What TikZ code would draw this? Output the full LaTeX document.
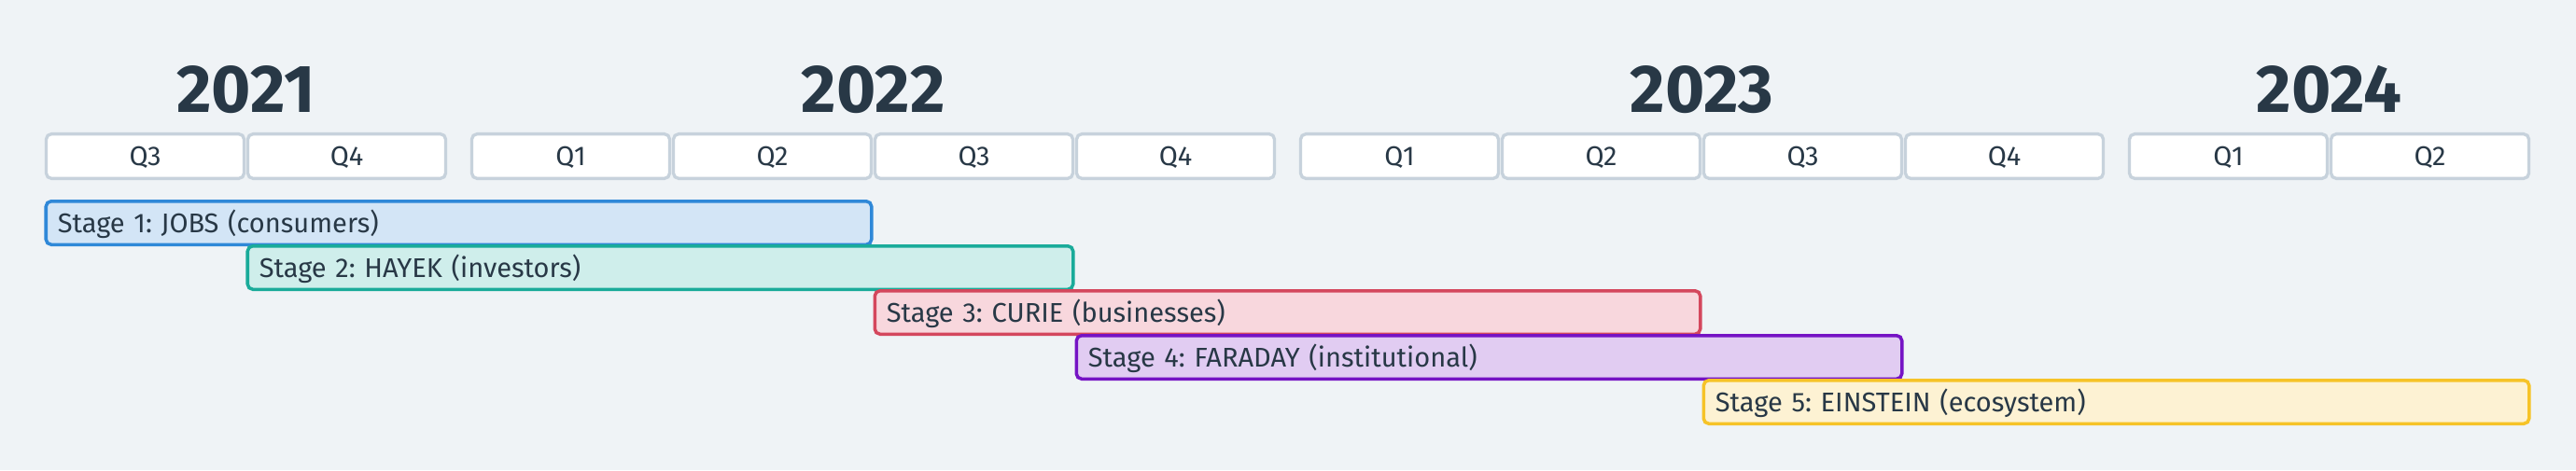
\documentclass[tikz,border=0pt]{standalone}
\usepackage{fontspec}
\setmainfont{Fira Sans}
\usepackage{tikz}
\usetikzlibrary{positioning}
\frenchspacing
\definecolor{bg}{HTML}{EFF3F6}
\definecolor{ink}{HTML}{283846}
\definecolor{qline}{HTML}{C7D2DC}
\definecolor{blueline}{HTML}{2F88D8}
\definecolor{bluefill}{HTML}{D3E5F6}
\definecolor{tealline}{HTML}{1AAB9A}
\definecolor{tealfill}{HTML}{CFEEEB}
\definecolor{redline}{HTML}{D4475D}
\definecolor{redfill}{HTML}{F8D7DD}
\definecolor{purpleline}{HTML}{7513C4}
\definecolor{purplefill}{HTML}{E1CCF2}
\definecolor{yellowline}{HTML}{F6C328}
\definecolor{yellowfill}{HTML}{FDF2D3}
\tikzstyle{year}=[anchor=base,text=ink,font=\fontsize{20.6}{24}\selectfont\bfseries,inner sep=0mm]
\tikzstyle{quarter}=[rectangle,draw=qline,fill=white,text=ink,rounded corners=1.6pt,line width=0.95pt,minimum width=2.12cm,minimum height=0.477cm,text height=0.2cm,text depth=0pt,font=\fontsize{8.26}{10}\selectfont]
\tikzstyle{stage}=[rectangle,text=ink,rounded corners=1.6pt,line width=1pt,minimum height=0.465cm,text width=8.595cm,inner xsep=0.125cm,align=left,text height=0.2cm,text depth=0pt,font=\fontsize{8.26}{10}\selectfont]

\begin{document}
\begin{tikzpicture}
        \fill[bg] (0,0) rectangle (27.6,5.04);
        \useasboundingbox (0,0) rectangle (27.6,5.04);
        % years
        \node[year] at (2.635,3.84) (y2021) {2021};
        \node[year] at (9.355,3.84) (y2022) {2022};
        \node[year] at (18.235,3.84) (y2023) {2023};
        \node[year] at (24.955,3.84) (y2024) {2024};
        % quarters
        \node[quarter] at (1.555,3.365) (q21c) {Q3};
        \node[quarter] at (3.715,3.365) (q21d) {Q4};
        \node[quarter] at (6.115,3.365) (q22a) {Q1};
        \node[quarter] at (8.275,3.365) (q22b) {Q2};
        \node[quarter] at (10.435,3.365) (q22c) {Q3};
        \node[quarter] at (12.595,3.365) (q22d) {Q4};
        \node[quarter] at (14.995,3.365) (q23a) {Q1};
        \node[quarter] at (17.155,3.365) (q23b) {Q2};
        \node[quarter] at (19.315,3.365) (q23c) {Q3};
        \node[quarter] at (21.475,3.365) (q23d) {Q4};
        \node[quarter] at (23.875,3.365) (q24a) {Q1};
        \node[quarter] at (26.035,3.365) (q24b) {Q2};
        % stages
        \node[stage,draw=blueline,fill=bluefill] at (4.915,2.65) (s1) {Stage 1: JOBS (consumers)};
        \node[stage,draw=tealline,fill=tealfill] at (7.075,2.17) (s2) {Stage 2: HAYEK (investors)};
        \node[stage,draw=redline,fill=redfill] at (13.795,1.69) (s3) {Stage 3: CURIE (businesses)};
        \node[stage,draw=purpleline,fill=purplefill] at (15.955,1.21) (s4) {Stage 4: FARADAY (institutional)};
        \node[stage,draw=yellowline,fill=yellowfill] at (22.675,0.73) (s5) {Stage 5: EINSTEIN (ecosystem)};
      \end{tikzpicture}
\end{document}
